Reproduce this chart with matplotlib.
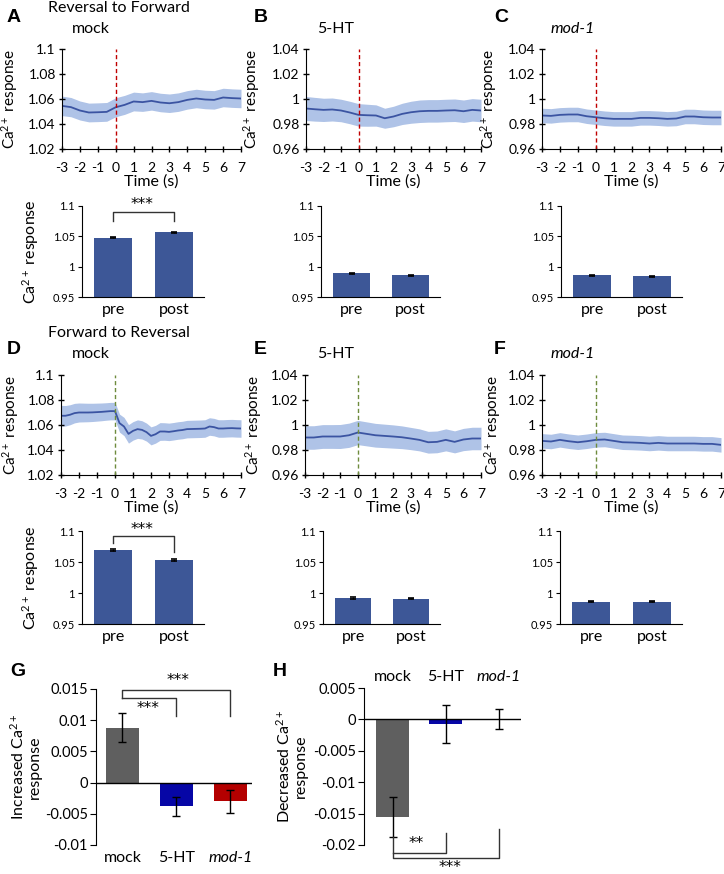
import matplotlib
matplotlib.use("Agg")
import matplotlib.pyplot as plt
from matplotlib.ticker import FormatStrFormatter

plt.rcParams["font.family"] = ["Lato", "DejaVu Sans"]
plt.rcParams["mathtext.fontset"] = "custom"
plt.rcParams["mathtext.rm"] = "Lato"
plt.rcParams["mathtext.it"] = "Lato:italic"
plt.rcParams["mathtext.bf"] = "Lato:bold"
plt.rcParams["axes.unicode_minus"] = False

# ---- data ----
t_half = [-3, -2.5, -2, -1.5, -1, -0.5, 0, 0.5, 1, 1.5, 2, 2.5, 3, 3.5, 4, 4.5, 5, 5.5, 6, 6.5, 7]
t_quarter = [-3, -2.75, -2.5, -2.25, -2, -1.75, -1.5, -1.25, -1, -0.75, -0.5, -0.25, 0,
             0.25, 0.5, 0.75, 1, 1.25, 1.5, 1.75, 2, 2.25, 2.5, 2.75, 3, 3.25, 3.5, 3.75,
             4, 4.25, 4.5, 4.75, 5, 5.25, 5.5, 5.75, 6, 6.25, 6.5, 6.75, 7]

A_mean = [1.0545, 1.0535, 1.0508, 1.0492, 1.0494, 1.0497, 1.0534, 1.0553, 1.0580, 1.0575, 1.0585,
          1.0572, 1.0566, 1.0575, 1.0593, 1.0604, 1.0596, 1.0593, 1.0612, 1.0607, 1.0604]
A_sem = [0.0078, 0.0077, 0.0076, 0.0075, 0.0075, 0.0075, 0.0076, 0.0076, 0.0075, 0.0074, 0.0074,
         0.0074, 0.0074, 0.0074, 0.0074, 0.0074, 0.0074, 0.0074, 0.0074, 0.0074, 0.0074]

B_mean = [0.9924, 0.9918, 0.9913, 0.9916, 0.9908, 0.9892, 0.9873, 0.9870, 0.9868, 0.9846, 0.9860,
          0.9881, 0.9894, 0.9902, 0.9905, 0.9905, 0.9908, 0.9910, 0.9902, 0.9913, 0.9908]
B_sem = [0.0096, 0.0095, 0.0093, 0.0092, 0.0090, 0.0090, 0.0090, 0.0088, 0.0085, 0.0080, 0.0082,
         0.0085, 0.0088, 0.0090, 0.0090, 0.0090, 0.0090, 0.0090, 0.0090, 0.0090, 0.0090]

C_mean = [0.9868, 0.9865, 0.9873, 0.9876, 0.9876, 0.9862, 0.9854, 0.9846, 0.9841, 0.9841, 0.9841,
          0.9849, 0.9849, 0.9846, 0.9841, 0.9844, 0.9860, 0.9860, 0.9854, 0.9852, 0.9852]
C_sem = [0.0058, 0.0058, 0.0058, 0.0058, 0.0058, 0.0058, 0.0058, 0.0058, 0.0058, 0.0058, 0.0058,
         0.0058, 0.0058, 0.0058, 0.0058, 0.0058, 0.0058, 0.0058, 0.0058, 0.0058, 0.0058]

D_mean = [1.0674, 1.0674, 1.0682, 1.0695, 1.0700, 1.0700, 1.0700, 1.0701, 1.0703, 1.0705, 1.0708,
          1.0711, 1.0711, 1.0615, 1.0588, 1.0529, 1.0553, 1.0567, 1.0561, 1.0543, 1.0513, 1.0526,
          1.0548, 1.0548, 1.0545, 1.0550, 1.0556, 1.0560, 1.0567, 1.0568, 1.0569, 1.0570, 1.0572,
          1.0588, 1.0583, 1.0572, 1.0572, 1.0574, 1.0575, 1.0573, 1.0572]
D_sem = [0.0083, 0.0082, 0.0080, 0.0078, 0.0076, 0.0075, 0.0074, 0.0073, 0.0072, 0.0071, 0.0070,
         0.0070, 0.0070, 0.0072, 0.0073, 0.0074, 0.0074, 0.0074, 0.0073, 0.0072, 0.0072, 0.0071,
         0.0071, 0.0070, 0.0070, 0.0070, 0.0070, 0.0070, 0.0070, 0.0070, 0.0070, 0.0070, 0.0070,
         0.0070, 0.0070, 0.0070, 0.0070, 0.0070, 0.0070, 0.0070, 0.0070]

E_mean = [0.9900, 0.9900, 0.9908, 0.9908, 0.9908, 0.9918, 0.9940, 0.9929, 0.9918, 0.9913, 0.9908,
          0.9902, 0.9892, 0.9881, 0.9862, 0.9865, 0.9881, 0.9865, 0.9884, 0.9892, 0.9892]
E_sem = [0.0094, 0.0094, 0.0095, 0.0095, 0.0096, 0.0097, 0.0097, 0.0096, 0.0095, 0.0094, 0.0093,
         0.0091, 0.0089, 0.0088, 0.0087, 0.0087, 0.0088, 0.0088, 0.0089, 0.0090, 0.0090]

F_mean = [0.9873, 0.9868, 0.9881, 0.9870, 0.9862, 0.9870, 0.9881, 0.9884, 0.9873, 0.9862, 0.9860,
          0.9857, 0.9852, 0.9857, 0.9852, 0.9852, 0.9852, 0.9852, 0.9849, 0.9849, 0.9841]
F_sem = [0.0058, 0.0058, 0.0058, 0.0058, 0.0058, 0.0058, 0.0058, 0.0058, 0.0058, 0.0058, 0.0058,
         0.0058, 0.0058, 0.0058, 0.0058, 0.0058, 0.0058, 0.0058, 0.0058, 0.0058, 0.0058]

prepost = ["pre", "post"]
A_bar = [1.0478, 1.0567]
B_bar = [0.9888, 0.9856]
C_bar = [0.9860, 0.9838]
D_bar = [1.0690, 1.0530]
E_bar = [0.9915, 0.9910]
F_bar = [0.9860, 0.9860]
A_err = [0.0012, 0.0012]
B_err = [0.0015, 0.0013]
C_err = [0.0010, 0.0010]
D_err = [0.0012, 0.0012]
E_err = [0.0015, 0.0012]
F_err = [0.0010, 0.0010]

groups = ["mock", "5-HT", "mod-1"]
G_vals = [0.0088, -0.0038, -0.0030]
G_errs = [0.0023, 0.0015, 0.0018]
H_vals = [-0.0156, -0.0007, 0.0001]
H_errs = [0.0032, 0.0030, 0.0016]

# ---- style ----
line_col = "#3B54A2"
fill_col = "#AFC3E7"
bar_col = "#3D5797"
group_cols = ["#5F5F5F", "#0606A6", "#B40000"]
W, H = 724, 874

fig = plt.figure(figsize=(7.24, 8.74), dpi=100)


def rect(x0, y0, x1, y1):
    return [x0 / W, 1 - y1 / H, (x1 - x0) / W, (y1 - y0) / H]


def ftext(x, y, s, **kw):
    fig.text(x / W, 1 - y / H, s, **kw)


def stars(ax, x, y, s, va="center"):
    ax.text(x, y, s, ha="center", va=va, fontsize=11, family="DejaVu Sans")


def line_panel(r, t, mean, sem, ylim, yticks, vcol, labx):
    ax = fig.add_axes(r)
    lo = [m - s for m, s in zip(mean, sem)]
    hi = [m + s for m, s in zip(mean, sem)]
    ax.fill_between(t, lo, hi, color=fill_col, lw=0)
    ax.plot(t, mean, color=line_col, lw=1.3)
    ax.axvline(0, color=vcol, lw=1, ls=(0, (3, 2)))
    ax.set_xlim(-3, 7)
    ax.set_ylim(ylim)
    ax.set_xticks(range(-3, 8))
    ax.set_yticks(yticks)
    ax.yaxis.set_major_formatter(FormatStrFormatter("%g"))
    ax.spines[["top", "right"]].set_visible(False)
    ax.tick_params(direction="inout", length=5, width=1, labelsize=10)
    ax.tick_params(axis="x", pad=7)
    ax.tick_params(axis="y", pad=2)
    ax.set_xlabel("Time (s)", fontsize=11.5, labelpad=0)
    ax.set_ylabel("Ca$^{2+}$ response", fontsize=11)
    ax.yaxis.set_label_coords(labx, 0.5)
    return ax


def bar_panel(r, vals, errs, ylabel, sig=None):
    ax = fig.add_axes(r)
    ax.bar([0, 1], vals, width=0.63, color=bar_col, yerr=errs, capsize=2.5,
           error_kw=dict(elinewidth=1, capthick=1.2))
    ax.set_xlim(-0.52, 1.5)
    ax.set_ylim(0.95, 1.1)
    ax.set_yticks([0.95, 1, 1.05, 1.1])
    ax.yaxis.set_major_formatter(FormatStrFormatter("%g"))
    ax.set_xticks([0, 1], prepost)
    ax.spines[["top", "right"]].set_visible(False)
    ax.tick_params(axis="x", length=0, labelsize=11.5, pad=4)
    ax.tick_params(axis="y", direction="out", length=3, labelsize=8, pad=2)
    if ylabel:
        ax.set_ylabel("Ca$^{2+}$ response", fontsize=11.5)
        ax.yaxis.set_label_coords(-0.335, 0.5)
    if sig:
        top, left_end, right_end, star_y = sig
        ax.plot([0, 0, 1, 1], [left_end, top, top, right_end], color="#333333",
                lw=1, clip_on=False)
        stars(ax, 0.47, star_y, "***")
    return ax


# ---- row 1: Reversal to Forward ----
line_panel(rect(62, 49, 241, 149), t_half, A_mean, A_sem, (1.02, 1.1),
           [1.02, 1.04, 1.06, 1.08, 1.1], "#C00000", -0.235)
line_panel(rect(306, 49, 481, 149), t_half, B_mean, B_sem, (0.96, 1.04),
           [0.96, 0.98, 1, 1.02, 1.04], "#C00000", -0.25)
line_panel(rect(542, 49, 721, 149), t_half, C_mean, C_sem, (0.96, 1.04),
           [0.96, 0.98, 1, 1.02, 1.04], "#C00000", -0.24)

bar_panel(rect(82, 206, 204, 297), A_bar, A_err, True, (1.090, 1.0757, 1.0757, 1.102))
bar_panel(rect(321, 206, 440, 297), B_bar, B_err, False)
bar_panel(rect(561, 206, 682, 297), C_bar, C_err, False)

# ---- row 2: Forward to Reversal ----
line_panel(rect(61, 375, 241, 475), t_quarter, D_mean, D_sem, (1.02, 1.1),
           [1.02, 1.04, 1.06, 1.08, 1.1], "#6E8B3D", -0.225)
line_panel(rect(305, 375, 481, 475), t_half, E_mean, E_sem, (0.96, 1.04),
           [0.96, 0.98, 1, 1.02, 1.04], "#6E8B3D", -0.233)
line_panel(rect(542, 375, 721, 475), t_half, F_mean, F_sem, (0.96, 1.04),
           [0.96, 0.98, 1, 1.02, 1.04], "#6E8B3D", -0.22)

bar_panel(rect(82, 531, 204, 624), D_bar, D_err, True, (1.092, 1.0806, 1.066, 1.102))
bar_panel(rect(323, 531, 440, 624), E_bar, E_err, False)
bar_panel(rect(560, 531, 682, 624), F_bar, F_err, False)

# ---- G ----
axg = fig.add_axes(rect(96, 689, 252, 845))
axg.bar([0, 1, 2], G_vals, width=0.61, color=group_cols, yerr=G_errs, capsize=3,
        error_kw=dict(elinewidth=1, capthick=1))
axg.axhline(0, color="black", lw=1)
axg.set_xlim(-0.49, 2.40)
axg.set_ylim(-0.01, 0.015)
axg.set_yticks([-0.01, -0.005, 0, 0.005, 0.01, 0.015])
axg.yaxis.set_major_formatter(FormatStrFormatter("%g"))
axg.set_xticks([0, 1, 2], groups)
axg.get_xticklabels()[2].set_style("italic")
axg.spines[["top", "right", "bottom"]].set_visible(False)
axg.tick_params(axis="x", length=0, labelsize=11.5, pad=4)
axg.tick_params(axis="y", direction="out", length=4, labelsize=10.5, pad=2)
axg.set_ylabel("Increased Ca$^{2+}$\nresponse", fontsize=11.5, linespacing=1.1)
axg.yaxis.set_label_coords(-0.35, 0.5)
bk = "#333333"
axg.plot([0, 0, 2, 2], [0.0136, 0.0149, 0.0149, 0.0106], color=bk, lw=1, clip_on=False)
axg.plot([0, 1, 1], [0.0136, 0.0136, 0.0106], color=bk, lw=1, clip_on=False)
stars(axg, 1.03, 0.0163, "***")
stars(axg, 0.47, 0.0118, "***")

# ---- H ----
axh = fig.add_axes(rect(364, 688, 521, 845))
axh.bar([0, 1, 2], H_vals, width=0.62, color=group_cols, yerr=H_errs, capsize=3,
        error_kw=dict(elinewidth=1, capthick=1))
axh.axhline(0, color="black", lw=1)
axh.set_xlim(-0.54, 2.42)
axh.set_ylim(-0.02, 0.005)
axh.set_yticks([-0.02, -0.015, -0.01, -0.005, 0, 0.005])
axh.yaxis.set_major_formatter(FormatStrFormatter("%g"))
axh.xaxis.tick_top()
axh.set_xticks([0, 1, 2], groups)
axh.get_xticklabels()[2].set_style("italic")
axh.spines[["top", "right", "bottom"]].set_visible(False)
axh.tick_params(axis="x", length=0, labelsize=11.5, pad=3)
axh.tick_params(axis="y", direction="out", length=4, labelsize=10.5, pad=2)
axh.set_ylabel("Decreased Ca$^{2+}$\nresponse", fontsize=11.5, linespacing=1.1)
axh.yaxis.set_label_coords(-0.357, 0.5)
axh.plot([0, 0, 2, 2], [-0.0188, -0.0220, -0.0220, -0.0175], color=bk, lw=1, clip_on=False)
axh.plot([0, 1, 1], [-0.0212, -0.0212, -0.01815], color=bk, lw=1, clip_on=False)
stars(axh, 0.44, -0.0198, "**")
stars(axh, 1.08, -0.0243, "***", va="baseline")

# ---- labels ----
letter = dict(fontsize=14, fontweight="bold", family="Liberation Sans", va="center")
ftext(7, 18, "A", **letter)
ftext(254, 18, "B", **letter)
ftext(494, 18, "C", **letter)
ftext(7, 350, "D", **letter)
ftext(254, 350, "E", **letter)
ftext(494, 350, "F", **letter)
ftext(10, 672, "G", **letter)
ftext(273, 672, "H", **letter)

ftext(48, 8, "Reversal to Forward", fontsize=11.5, va="center")
ftext(48, 333, "Forward to Reversal", fontsize=11.5, va="center")
for yy in (29, 354):
    ftext(91, yy, "mock", fontsize=11.5, ha="center", va="center")
    ftext(336, yy, "5-HT", fontsize=11.5, ha="center", va="center")
    ftext(573, yy, "mod-1", fontsize=11.5, ha="center", va="center", style="italic")

fig.savefig("out.png", dpi=100)
print("saved out.png")
